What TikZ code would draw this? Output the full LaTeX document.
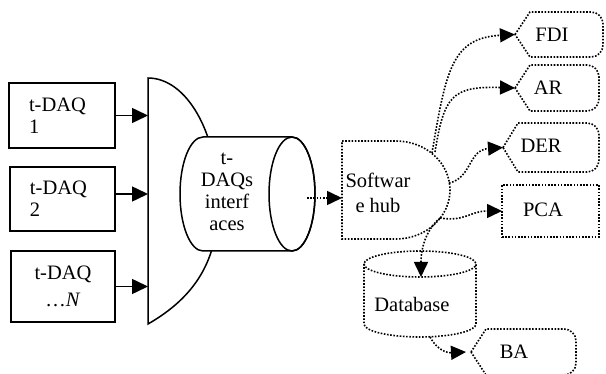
\documentclass[tikz,border=0pt]{standalone}
\usepackage{fontspec}
\setmainfont{Liberation Serif}
\usetikzlibrary{arrows.meta,calc}
\tikzset{
  txt/.style={font=\fontsize{20.5}{22}\selectfont},
  lbl/.style={txt, inner sep=0pt, align=center},
  solidln/.style={line width=1.5pt},
  dotln/.style={line width=1.6pt, dash pattern=on 1.6pt off 1.6pt},
  solidarr/.style={line width=1.5pt, -{Triangle[length=16pt,width=15pt]}},
  dotarr/.style={dotln, -{Triangle[length=15pt,width=14pt]}},
  daqbox/.style={draw, line width=1.5pt, inner sep=0pt, txt, align=left},
  frame/.style={inner sep=0pt, outer sep=0pt},
}
\newcommand\dispoutline[1]{%
  \draw[dotln] (#1.west) -- ([xshift=15pt]#1.north west) -- ([xshift=-12pt]#1.north east)
    arc[start angle=90,end angle=0,radius=12] -- ([yshift=12pt]#1.south east)
    arc[start angle=0,end angle=-90,radius=12] -- ([xshift=15pt]#1.south west) -- cycle;}
\begin{document}
\begin{tikzpicture}[x=1pt,y=1pt]
\useasboundingbox (0,0) rectangle (606,-374);
% sources
\node[daqbox, minimum width=106pt, minimum height=65pt, text width=66pt] (d1) at (62,-115.5) {t-DAQ\\1};
\node[daqbox, minimum width=105pt, minimum height=64pt, text width=65pt] (d2) at (62.5,-199) {t-DAQ\\2};
\node[daqbox, align=center, minimum width=104pt, minimum height=71pt] (d3) at (63,-286.5) {t-DAQ\\[5pt]…\textit{N}};
% multiplexer D shape
\coordinate (muxL) at (148,-201);
\draw[solidln] (148,-78) arc[start angle=90,end angle=0,x radius=70,y radius=123]
  .. controls (219,-260) and (195,-297) .. (148,-324) -- cycle;
\draw[solidarr] (d1.east) -- (d1.east -| muxL);
\draw[solidarr] ([yshift=5pt]d2.east) -- ([yshift=5pt]d2.east -| muxL);
\draw[solidarr] (d3.east) -- (d3.east -| muxL);
% interfaces cylinder
\node[frame, minimum width=135pt, minimum height=114pt] (iface) at (247.5,-194) {};
\draw[solidln, fill=white] (203,-137) arc[start angle=90,end angle=270,x radius=23,y radius=57]
  -- (292,-251) arc[start angle=-90,end angle=90,x radius=23,y radius=57] -- cycle;
\draw[solidln] (292,-194) ellipse[x radius=23,y radius=57];
\node[lbl] (ifacetxt) at (227,-192) {t-\\DAQs\\interf\\aces};
% software hub
\node[frame, minimum width=108pt, minimum height=98pt] (hub) at (396,-190) {};
\draw[dotln] (hub.north west) -- (hub.north) arc[start angle=90,end angle=-90,x radius=54,y radius=49]
  -- (hub.south west) -- cycle;
\node[lbl] (hubtxt) at (378,-192.5) {Softwar\\[3pt]e hub};
\draw[dotarr] ([xshift=-8pt,yshift=-4pt]iface.east) -- ([yshift=-4pt]iface.east -| hub.west);
% outputs
\node[frame, minimum width=88pt, minimum height=45pt] (fdi) at (559,-34.5) {};
\node[frame, minimum width=84pt, minimum height=46pt] (ar) at (557,-88) {};
\node[frame, minimum width=96pt, minimum height=49pt] (der) at (551,-147.5) {};
\node[frame, minimum width=105pt, minimum height=46pt] (ba) at (523.5,-352) {};
\node[frame, draw, dotln, minimum width=97pt, minimum height=52pt] (pca) at (550.5,-211) {};
\dispoutline{fdi}
\dispoutline{ar}
\dispoutline{der}
\dispoutline{ba}
\node[lbl] (fdilbl) at (552,-35) {FDI};
\node[lbl] (arlbl) at (548,-88) {AR};
\node[lbl] (derlbl) at (541,-146) {DER};
\node[lbl] (pcalbl) at (543,-210) {PCA};
\node[lbl] (balbl) at (514,-352) {BA};
% database
\node[frame, minimum width=112pt, minimum height=86pt] (db) at (420,-294) {};
\draw[dotln] (364,-264) -- (364,-324) arc[start angle=180,end angle=360,x radius=56,y radius=13]
  -- (476,-264) arc[start angle=0,end angle=180,x radius=56,y radius=13] -- cycle;
\draw[dotln] (364,-264) arc[start angle=180,end angle=360,x radius=56,y radius=13];
\node[lbl] (dblbl) at (412,-304) {Database};
% hub connectors
\coordinate (hA) at (432,-153);
\coordinate (hB) at (435,-152);
\coordinate (hC) at (449,-183);
\coordinate (hD) at (440,-218);
\coordinate (dbin) at (421,-277);
\coordinate (dbout) at (430,-337);
\draw[dotarr] (hA) .. controls (446,-70) and (452,-38) .. (fdi.west);
\draw[dotarr] (hB) .. controls (444,-96) and (452,-86) .. (ar.west);
\draw[dotarr] (hC) .. controls (472,-178) and (468,-150) .. (der.west);
\draw[dotarr] (hD) .. controls (465,-222) and (470,-211) .. (pca.west);
\draw[dotarr] (hD) .. controls (428,-228) and (421,-245) .. (dbin);
\draw[dotarr] (dbout) .. controls (437,-350) and (447,-353) .. ([xshift=-5pt]ba.west);
\end{tikzpicture}
\end{document}
